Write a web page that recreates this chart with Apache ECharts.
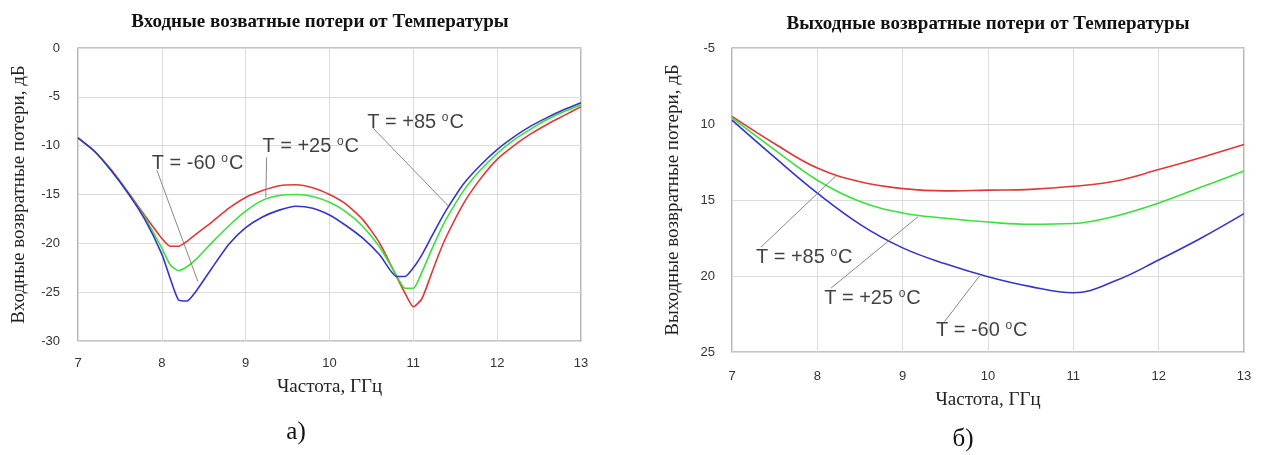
<!DOCTYPE html>
<html>
<head>
<meta charset="utf-8">
<script src="https://cdn.jsdelivr.net/npm/echarts@6/dist/echarts.min.js"></script>
<style>
html,body{margin:0;padding:0;background:#fff;}
#chart{width:1265px;height:455px;}
</style>
</head>
<body>
<div id="chart"></div>
<script>
// ---------- DATA ----------
// (a) Input return loss vs frequency
const freqIn = [7.0, 7.2, 7.4, 7.6, 7.8, 8.0, 8.1, 8.2, 8.3, 8.4, 8.6, 8.8, 9.0, 9.2, 9.4, 9.6, 9.8, 10.0, 10.2, 10.4, 10.6, 10.8, 10.9, 11.0, 11.1, 11.2, 11.3, 11.4, 11.6, 11.8, 12.0, 12.2, 12.4, 12.6, 12.8, 13.0];
const inRed85 = [-9.2, -10.6, -12.5, -14.8, -17.2, -19.5, -20.3, -20.3, -19.8, -19.1, -17.8, -16.4, -15.3, -14.6, -14.1, -14.0, -14.3, -15.0, -16.0, -17.6, -20.0, -23.4, -25.1, -26.5, -25.7, -23.5, -21.2, -19.2, -15.9, -13.4, -11.4, -10.0, -8.8, -7.8, -6.9, -6.0];
const inGreen25 = [-9.2, -10.6, -12.6, -14.9, -17.4, -20.5, -22.2, -22.8, -22.4, -21.7, -19.9, -18.2, -16.7, -15.6, -15.1, -15.0, -15.2, -15.8, -16.8, -18.3, -20.4, -23.3, -24.6, -24.6, -23.0, -21.0, -19.1, -17.4, -14.6, -12.5, -10.8, -9.4, -8.3, -7.3, -6.5, -5.8];
const inBlue60 = [-9.2, -10.6, -12.6, -14.9, -17.6, -21.1, -23.6, -25.8, -25.9, -25.0, -22.5, -20.1, -18.4, -17.3, -16.6, -16.2, -16.4, -17.1, -18.2, -19.5, -21.2, -23.4, -23.4, -22.5, -21.2, -19.6, -18.0, -16.5, -13.9, -12.0, -10.4, -9.1, -8.0, -7.1, -6.3, -5.6];

// (б) Output return loss vs frequency
const freqOut = [7.0, 7.5, 8.0, 8.5, 9.0, 9.5, 10.0, 10.5, 11.0, 11.5, 12.0, 12.5, 13.0];
const outRed85 = [9.5, 11.3, 12.9, 13.8, 14.25, 14.4, 14.35, 14.3, 14.1, 13.75, 13.0, 12.2, 11.35];
const outGreen25 = [9.6, 11.7, 13.7, 15.1, 15.85, 16.2, 16.45, 16.6, 16.55, 16.05, 15.2, 14.15, 13.1];
const outBlue60 = [9.75, 12.2, 14.55, 16.6, 18.15, 19.2, 20.05, 20.7, 21.1, 20.3, 18.95, 17.5, 15.9];
const outYTickLabels = ['-5', '10', '15', '20', '25'];

// texts
const titleIn = 'Входные возватные потери от Температуры';
const titleOut = 'Выходные возвратные потери от Температуры';
const yNameIn = 'Входные возвратные потери, дБ';
const yNameOut = 'Выходные возвратные потери, дБ';
const xName = 'Частота, ГГц';
const seriesNames = ['T = +85 oC', 'T = +25 oC', 'T = -60 oC'];

// annotation anchors (data coords): label left/middle, leader start, leader end
const annIn = [
  {t: '+85', label: [10.45, -7.5], from: [10.52, -8.2], to: [11.42, -16.2]},
  {t: '+25', label: [9.2, -10.0], from: [9.25, -11.2], to: [9.24, -15.3]},
  {t: '-60', label: [7.88, -11.7], from: [7.94, -12.5], to: [8.43, -23.9]}
];
const annOut = [
  {t: '+85', label: [7.28, 18.7], from: [7.34, 18.1], to: [8.22, 13.4]},
  {t: '+25', label: [8.08, 21.4], from: [8.16, 20.8], to: [9.18, 16.1]},
  {t: '-60', label: [9.39, 23.5], from: [9.49, 23.0], to: [9.90, 20.0]}
];

// ---------- STYLE ----------
const RED = '#e03838', GREEN = '#3be03b', BLUE = '#3535c8';
const serif = '"Liberation Serif", "DejaVu Serif", serif';
const sans = '"Liberation Sans", Arial, sans-serif';

function zip(xs, ys) { return xs.map((x, i) => [x, ys[i]]); }

const axisLabelStyle = {color: '#333', fontFamily: sans, fontSize: 13};
const splitLine = {show: true, lineStyle: {color: '#dcdcdc', width: 1}};
const nameStyle = {fontFamily: serif, fontSize: 19, color: '#222'};

function curve(name, xi, yi, data, color, smooth) {
  return {
    name: name, type: 'line', xAxisIndex: xi, yAxisIndex: yi,
    data: data, showSymbol: false, symbol: 'none', smooth: smooth,
    lineStyle: {color: color, width: 1.6}, itemStyle: {color: color},
    silent: true, z: 3
  };
}

function leaders(list, xi, yi) {
  return list.map(a => ({
    type: 'line', xAxisIndex: xi, yAxisIndex: yi,
    data: [a.from, a.to], showSymbol: false, symbol: 'none',
    lineStyle: {color: '#7a7a7a', width: 0.9}, silent: true, z: 4
  }));
}

function labels(list, xi, yi) {
  return {
    type: 'scatter', xAxisIndex: xi, yAxisIndex: yi, symbolSize: 0, silent: true, z: 5,
    data: list.map(a => ({value: a.label, t: a.t})),
    label: {
      show: true, position: 'right', distance: 0,
      formatter: p => '{b|T = ' + p.data.t + ' }{s|o}{b|C}',
      rich: {
        b: {fontFamily: sans, fontSize: 20, color: '#111', lineHeight: 22, verticalAlign: 'bottom'},
        s: {fontFamily: sans, fontSize: 12, color: '#111', lineHeight: 22, verticalAlign: 'top', padding: [1, 1, 0, 0]}
      }
    }
  };
}

const chart = echarts.init(document.getElementById('chart'), null, {renderer: 'canvas'});

const option = {
  animation: false,
  backgroundColor: '#ffffff',
  grid: [
    {left: 78, top: 48, width: 503, height: 293, show: true, borderColor: '#8a8a8a', borderWidth: 1.2, backgroundColor: 'transparent'},
    {left: 732, top: 48, width: 512, height: 304, show: true, borderColor: '#8a8a8a', borderWidth: 1.2, backgroundColor: 'transparent'}
  ],
  xAxis: [
    {gridIndex: 0, type: 'value', min: 7, max: 13, interval: 1,
     axisLine: {show: false}, axisTick: {show: false}, splitLine: splitLine,
     axisLabel: Object.assign({margin: 16}, axisLabelStyle),
     name: xName, nameLocation: 'middle', nameGap: 37, nameTextStyle: nameStyle},
    {gridIndex: 1, type: 'value', min: 7, max: 13, interval: 1,
     axisLine: {show: false}, axisTick: {show: false}, splitLine: splitLine,
     axisLabel: Object.assign({margin: 18}, axisLabelStyle),
     name: xName, nameLocation: 'middle', nameGap: 39, nameTextStyle: nameStyle}
  ],
  yAxis: [
    {gridIndex: 0, type: 'value', min: -30, max: 0, interval: 5,
     axisLine: {show: false}, axisTick: {show: false}, splitLine: splitLine,
     axisLabel: Object.assign({margin: 18}, axisLabelStyle),
     name: yNameIn, nameLocation: 'middle', nameGap: 49, nameRotate: 90, nameTextStyle: nameStyle},
    {gridIndex: 1, type: 'value', min: 5, max: 25, interval: 5, inverse: true,
     axisLine: {show: false}, axisTick: {show: false}, splitLine: splitLine,
     axisLabel: Object.assign({margin: 17, formatter: v => outYTickLabels[Math.round((v - 5) / 5)]}, axisLabelStyle),
     name: yNameOut, nameLocation: 'middle', nameGap: 49, nameRotate: 90, nameTextStyle: nameStyle}
  ],
  graphic: [
    {type: 'text', x: 320, y: 22, style: {text: titleIn, textAlign: 'center', textVerticalAlign: 'middle', font: 'bold 19px ' + serif, fill: '#111'}},
    {type: 'text', x: 988, y: 24, style: {text: titleOut, textAlign: 'center', textVerticalAlign: 'middle', font: 'bold 19px ' + serif, fill: '#111'}},
    {type: 'text', x: 296, y: 432, style: {text: 'а)', textAlign: 'center', textVerticalAlign: 'middle', font: '25px ' + serif, fill: '#111'}},
    {type: 'text', x: 963, y: 439, style: {text: 'б)', textAlign: 'center', textVerticalAlign: 'middle', font: '25px ' + serif, fill: '#111'}}
  ],
  series: [
    curve(seriesNames[0], 0, 0, zip(freqIn, inRed85), RED, 0.2),
    curve(seriesNames[1], 0, 0, zip(freqIn, inGreen25), GREEN, 0.2),
    curve(seriesNames[2], 0, 0, zip(freqIn, inBlue60), BLUE, 0.2),
    curve(seriesNames[0], 1, 1, zip(freqOut, outRed85), RED, 0.4),
    curve(seriesNames[1], 1, 1, zip(freqOut, outGreen25), GREEN, 0.4),
    curve(seriesNames[2], 1, 1, zip(freqOut, outBlue60), BLUE, 0.4)
  ].concat(leaders(annIn, 0, 0)).concat(leaders(annOut, 1, 1)).concat([labels(annIn, 0, 0), labels(annOut, 1, 1)])
};

chart.setOption(option);
</script>
</body>
</html>
